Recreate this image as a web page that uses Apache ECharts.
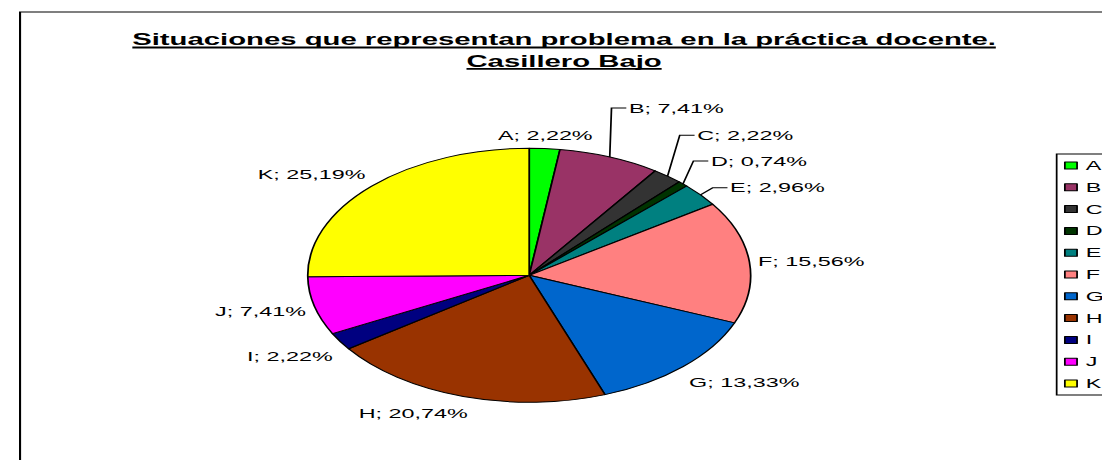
<!DOCTYPE html>
<html><head><meta charset="utf-8">
<script src="https://cdn.jsdelivr.net/npm/echarts@6/dist/echarts.min.js"></script>
<style>
html,body{margin:0;padding:0;width:1102px;height:460px;overflow:hidden;background:#fff}
#wrap{position:absolute;left:0;top:0;width:632px;height:460px;transform-origin:0 0;transform:scaleX(1.74367)}
#chart{width:632px;height:460px}
</style></head><body>
<div id="wrap"><div id="chart"></div></div>
<script>
const categories = ['A','B','C','D','E','F','G','H','I','J','K'];
const percentages = [2.22,7.41,2.22,0.74,2.96,15.56,13.33,20.74,2.22,7.41,25.19];
const sliceColors = ['#00FF00','#993366','#333333','#003300','#008080','#FF8080','#0066CC','#993300','#000080','#FF00FF','#FFFF00'];
const titleLines = ['Situaciones que representan problema en la práctica docente.','Casillero Bajo'];
// manual leader-line elbows (offset from slice edge) for the dragged labels
const leaderElbows = {B:[1,49], C:[7,41], D:[6,23], E:[7,7]};

const FONT = '"Liberation Sans", Arial, sans-serif';
const PIE_C = [303.5, 275.3], PIE_R = 127;
const TITLE_FS = 16.8, LABEL_FS = 13.4, TITLE_X = 323.5;

function measure(text, font){
  const c = document.createElement('canvas').getContext('2d');
  c.font = font; return c.measureText(text).width;
}
const titleFont = 'bold ' + TITLE_FS + 'px "Liberation Sans"';
const titleY = [39.3, 60.6];
const graphics = [{
  type:'rect', shape:{x:11.5, y:12, width:640, height:470},
  style:{fill:'none', stroke:'#000', lineWidth:1.2}, silent:true
}];
titleLines.forEach((t,i)=>{
  const w = measure(t, titleFont);
  graphics.push({type:'text', x:TITLE_X, y:titleY[i], style:{text:t, font:titleFont, fill:'#000', align:'center', verticalAlign:'middle'}, silent:true});
  graphics.push({type:'line', shape:{x1:TITLE_X-w/2, y1:titleY[i]+8.2, x2:TITLE_X+w/2, y2:titleY[i]+8.2}, style:{stroke:'#000', lineWidth:1.8}, silent:true});
});

const fmt = v => v.toFixed(2).replace('.', ',') + '%';
const seriesData = categories.map((c,i)=>({
  name:c, value:percentages[i],
  itemStyle:{color:sliceColors[i]},
  labelLine:{lineStyle:{opacity: leaderElbows[c] ? 1 : 0}}
}));

const chart = echarts.init(document.getElementById('chart'), null, {renderer:'svg'});
chart.setOption({
  animation:false,
  backgroundColor:'#fff',
  graphic: graphics,
  legend:{
    orient:'vertical', left:606, top:154, padding:[5,8,5,4.2],
    borderColor:'#000', borderWidth:1, itemWidth:7, itemHeight:7, itemGap:8.8,
    icon:'rect', selectedMode:false,
    itemStyle:{borderColor:'#000', borderWidth:1},
    textStyle:{fontFamily:FONT, fontSize:LABEL_FS, color:'#000'},
    data: categories
  },
  series:[{
    type:'pie', center:PIE_C, radius:PIE_R, startAngle:90, clockwise:true,
    avoidLabelOverlap:false, silent:true,
    itemStyle:{borderColor:'#000', borderWidth:1},
    label:{show:true, position:'outside', color:'#000', fontFamily:FONT, fontSize:LABEL_FS,
      formatter: p => p.name + '; ' + fmt(p.value)},
    labelLine:{show:true, length:10, length2:0, lineStyle:{color:'#000', width:1}},
    labelLayout: function(p){
      const name = categories[p.dataIndex];
      const pts = p.labelLinePoints;
      if(!pts) return {};
      const e = pts[0];
      let dx = e[0]-PIE_C[0], dy = e[1]-PIE_C[1];
      const len = Math.hypot(dx,dy)||1; dx/=len; dy/=len;
      const w = p.labelRect.width, h = p.labelRect.height;
      if (leaderElbows[name]) {
        const el = leaderElbows[name];
        const bx = e[0]+el[0], by = e[1]-el[1];
        const ex = bx + 8.5;
        return {x: ex + 1.5, y: by, align:'left', verticalAlign:'middle',
          labelLinePoints:[[e[0],e[1]],[bx,by],[ex,by]]};
      }
      const gap = 5;
      const px = e[0] + dx*gap, py = e[1] + dy*gap;
      const hw = w/2, hh = h/2 + 2;
      let lx = Math.abs(dx) < 0.15 ? px : px + Math.sign(dx)*hw;
      let ly = Math.abs(dy) < 0.3 ? py : py + Math.sign(dy)*hh;
      if (dy > 0.2) ly += 4;
      if (Math.abs(dx) < 0.4 && Math.abs(dx) >= 0.15) lx += Math.sign(dx) * -4;
      return {x: lx, y: ly, align:'center', verticalAlign:'middle',
        labelLinePoints:[[e[0],e[1]],[e[0],e[1]],[e[0],e[1]]]};
    },
    data: seriesData
  }]
});
</script>
</body></html>
